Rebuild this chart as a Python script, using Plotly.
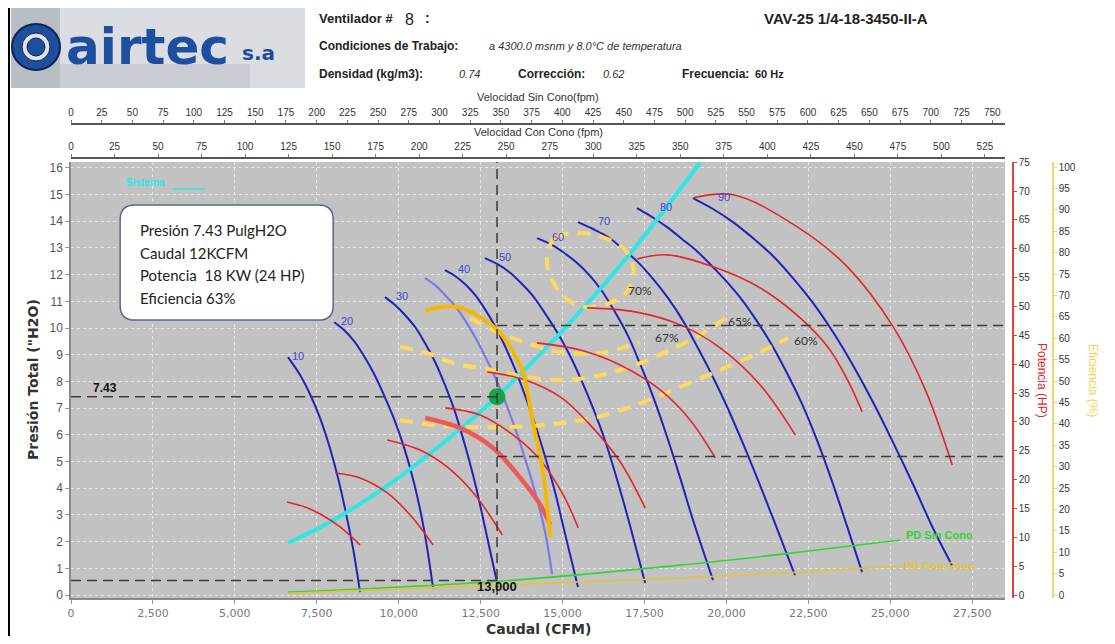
import plotly.graph_objects as go

# ---------------- data ----------------
op_cfm = 13000
op_p = 7.43
op_hp = 24
op_eff = 63
pd_op = 0.55
area_sin = 37.48   # CFM per fpm, sin cono
area_con = 53.12   # CFM per fpm, con cono

fan_labels = ["10", "20", "30", "", "40", "50", "60", "70", "80", "90"]
fan_q = [
    [6620, 6990, 7290, 7600, 7900, 8150, 8390, 8610, 8820],
    [8030, 8330, 8640, 8940, 9250, 9550, 9860, 10160, 10470, 10770, 11050],
    [9580, 9890, 10190, 10500, 10800, 11110, 11410, 11720, 12020, 12330, 12630, 13030],
    [10800, 11110, 11410, 11720, 12020, 12330, 12630, 12940, 13240, 13550, 13850, 14160, 14460, 14680],
    [11410, 11720, 12020, 12330, 12630, 12940, 13240, 13550, 13850, 14160, 14460, 14770, 15070, 15470],
    [12630, 13000, 13370, 13730, 14100, 14460, 14830, 15200, 15560, 15930, 16300, 16660, 17030, 17520],
    [14220, 14620, 15010, 15410, 15810, 16200, 16600, 17000, 17390, 17790, 18190, 18590, 18980, 19590],
    [15470, 15930, 16390, 16840, 17300, 17760, 18220, 18680, 19130, 19590, 20050, 20510, 20960, 21420, 22090],
    [17270, 17730, 18190, 18650, 19100, 19560, 20020, 20480, 20930, 21390, 21850, 22310, 22760, 23220, 23680,
     24140],
    [18980, 19590, 20200, 20810, 21420, 22030, 22640, 23250, 23860, 24470, 25080, 25690, 26300, 26880],
]
fan_p = [
    [8.91, 8.24, 7.53, 6.63, 5.51, 4.38, 3.07, 1.72, 0.11],
    [10.22, 9.93, 9.51, 8.95, 8.28, 7.49, 6.59, 5.54, 4.19, 2.47, 0.26],
    [11.16, 10.86, 10.49, 10.04, 9.44, 8.73, 7.87, 6.85, 5.62, 4.19, 2.55, 0.30],
    [11.87, 11.61, 11.24, 10.82, 10.30, 9.66, 8.95, 8.16, 7.27, 6.25, 5.13, 3.86, 2.40, 0.79],
    [12.17, 11.95, 11.65, 11.24, 10.71, 10.07, 9.33, 8.46, 7.49, 6.40, 5.21, 3.86, 2.32, 0.30],
    [12.62, 12.40, 12.10, 11.69, 11.20, 10.56, 9.85, 9.03, 8.09, 7.00, 5.77, 4.34, 2.73, 0.45],
    [13.37, 13.15, 12.85, 12.47, 11.99, 11.39, 10.60, 9.70, 8.58, 7.34, 5.92, 4.38, 2.81, 0.56],
    [13.97, 13.71, 13.41, 12.96, 12.47, 11.84, 11.12, 10.26, 9.25, 8.16, 6.97, 5.66, 4.31, 2.88, 0.75],
    [14.49, 14.16, 13.78, 13.33, 12.88, 12.32, 11.72, 11.05, 10.26, 9.36, 8.31, 7.15, 5.81, 4.27, 2.58, 0.86],
    [14.87, 14.46, 13.97, 13.37, 12.70, 11.87, 10.94, 9.85, 8.61, 7.23, 5.73, 4.16, 2.51, 1.12],
]
pow_q = [
    [6590, 7140, 7660, 8210, 8820],
    [8060, 8820, 9650, 10350, 11050],
    [9650, 10650, 11480, 12330, 13160],
    [10810, 11870, 12880, 13710, 14320, 14620],
    [11420, 12480, 13490, 14320, 15020, 15480],
    [12700, 13860, 14930, 15840, 16760, 17520],
    [14220, 15540, 16760, 17980, 18890, 19660],
    [15750, 17220, 18590, 19810, 21030, 22100],
    [17280, 18190, 19600, 21030, 22250, 23160, 23770, 24140],
    [18990, 20210, 22160, 23690, 25090, 26070, 26890],
]
pow_hp = [
    [16.13, 15.26, 13.87, 11.79, 8.67],
    [21.15, 20.29, 17.69, 13.87, 8.67],
    [26.88, 25.14, 22.19, 17.34, 10.40],
    [30.69, 28.96, 25.49, 20.29, 15.61, 12.14],
    [32.43, 31.21, 27.74, 23.41, 17.34, 11.62],
    [38.67, 37.28, 34.33, 29.48, 23.06, 15.09],
    [43.70, 42.48, 39.88, 35.55, 30.35, 23.76],
    [49.77, 49.07, 46.82, 42.83, 36.41, 27.74],
    [58.26, 58.96, 56.88, 53.23, 48.03, 42.48, 36.41, 31.73],
    [68.84, 69.36, 63.81, 56.88, 46.47, 35.55, 22.54],
]
selected_idx = 3

sys_q = [6620, 8000, 10000, 12000, 13000, 15000, 17000, 19200]
sys_p = [1.95, 2.80, 4.40, 6.35, 7.43, 9.90, 12.70, 16.20]

eff_sel_q = [10810, 11260, 11780, 12480, 13100, 13550, 13800, 14100, 14410, 14620]
eff_sel = [66.4, 67.3, 67.3, 65.0, 61.2, 56.0, 51.9, 40.2, 28.5, 13.6]

iso_names = ["70%", "67%", "65%", "60%"]
iso_q = [
    [14560, 14800, 15540, 16300, 16910, 17160, 17000, 16450, 15690, 15170, 14710, 14530, 14560],
    [12180, 13090, 13920, 14920, 16140, 16800, 17360],
    [10040, 10870, 11660, 12880, 13920, 14920, 15840, 16760, 17460, 18280, 19190, 19960],
    [10040, 11050, 12090, 13400, 14410, 15230, 16060, 16970, 17770, 18500, 19810, 21030, 21880],
]
iso_p = [
    [12.92, 13.41, 13.56, 13.37, 12.92, 12.28, 11.42, 10.94, 10.79, 11.05, 11.72, 12.36, 12.92],
    [10.37, 9.81, 9.44, 9.10, 9.06, 9.25, 9.44],
    [9.29, 9.06, 8.69, 8.43, 8.16, 8.05, 8.16, 8.43, 8.73, 9.18, 9.74, 10.37],
    [6.55, 6.37, 6.29, 6.29, 6.37, 6.48, 6.67, 7.00, 7.38, 7.75, 8.43, 9.10, 9.63],
]
iso_lbl_q = [17370, 18190, 20420, 22440]
iso_lbl_p = [11.39, 9.66, 10.26, 9.55]

pd_sin_q = [6620, 13090, 18590, 22250, 25310]
pd_sin_p = [0.11, 0.52, 1.12, 1.61, 2.06]
pd_con_q = [6620, 18590, 22250, 25310]
pd_con_p = [0.07, 0.64, 0.86, 1.09]

info_lines = ["Presión 7.43 PulgH2O", "Caudal 12KCFM", "Potencia  18 KW (24 HP)", "Eficiencia 63%"]

# ---------------- layout geometry (screen pixels; page body has an 8px margin) ----------------
OFF = 8
SW, SH = 1115, 644
W, H = SW - 2 * OFF, SH - 2 * OFF
PL, PR, PT, PB = 71, 1065, 90, 598          # plot area on screen
ML, MT = PL - OFF, PT - OFF
MR, MB = W - (PR - OFF), H - (PB - OFF)
PW, PH = PR - PL, PB - PT
XD = (1005 - PL) / PW
YD = (PB - 162) / PH


def px(x):
    return (x - PL) / PW


def py(y):
    return (PB - y) / PH


XMAX = 28500
YR = [-0.11, 16.22]
Y2R = [-0.52, 75.05]
Y3R = [-0.7, 101.2]

BLUE = "#2222bb"
LBLUE = "#7a7ae8"
RED = "#e3262b"
CYAN = "#2de6e6"
EFFY = "#ffd95e"
GOLD = "#f5b800"

fig = go.Figure()

for i, (q, p) in enumerate(zip(fan_q, fan_p)):
    sel = i == selected_idx
    fig.add_trace(go.Scatter(x=q, y=p, mode="lines", line=dict(color=LBLUE if sel else BLUE, width=2.2 if sel else 2,
                                                                 shape="spline", smoothing=1.0),
                             hoverinfo="skip", showlegend=False))
for i, (q, hp) in enumerate(zip(pow_q, pow_hp)):
    sel = i == selected_idx
    fig.add_trace(go.Scatter(x=q, y=hp, yaxis="y2", mode="lines",
                             line=dict(color="#f05858" if sel else RED, width=4.5 if sel else 1.6,
                                       shape="spline", smoothing=1.0),
                             hoverinfo="skip", showlegend=False))
fig.add_trace(go.Scatter(x=sys_q, y=sys_p, mode="lines", line=dict(color=CYAN, width=4, shape="spline"),
                         hoverinfo="skip", showlegend=False))
for q, p in zip(iso_q, iso_p):
    fig.add_trace(go.Scatter(x=q, y=p, mode="lines",
                             line=dict(color=EFFY, width=4, dash="13px,9px", shape="spline", smoothing=1.0),
                             hoverinfo="skip", showlegend=False))
fig.add_trace(go.Scatter(x=eff_sel_q, y=eff_sel, yaxis="y3", mode="lines",
                         line=dict(color=GOLD, width=4, shape="spline", smoothing=0.8),
                         hoverinfo="skip", showlegend=False))
fig.add_trace(go.Scatter(x=pd_sin_q, y=pd_sin_p, mode="lines", line=dict(color="#33d433", width=1.6, shape="spline"),
                         hoverinfo="skip", showlegend=False))
fig.add_trace(go.Scatter(x=pd_con_q, y=pd_con_p, mode="lines", line=dict(color="#e6c23a", width=1.6, shape="spline"),
                         hoverinfo="skip", showlegend=False))
fig.add_trace(go.Scatter(x=[op_cfm], y=[op_p], mode="markers", marker=dict(color="#17a347", size=17),
                         hoverinfo="skip", showlegend=False))
fig.add_trace(go.Scatter(x=[0], y=[None], xaxis="x2", mode="lines", hoverinfo="skip", showlegend=False))
fig.add_trace(go.Scatter(x=[0], y=[None], xaxis="x3", mode="lines", hoverinfo="skip", showlegend=False))

shapes = []
dash_line = dict(color="#3c3c3c", width=1.5, dash="10px,6px")
shapes.append(dict(type="line", xref="x", yref="y", x0=0, x1=op_cfm, y0=op_p, y1=op_p, line=dash_line))
shapes.append(dict(type="line", xref="x", yref="y", x0=0, x1=op_cfm, y0=pd_op, y1=pd_op, line=dash_line))
shapes.append(dict(type="line", xref="x", yref="y", x0=op_cfm, x1=op_cfm, y0=0, y1=YR[1], line=dash_line))
shapes.append(dict(type="line", xref="x", yref="y2", x0=op_cfm, x1=XMAX, y0=op_hp, y1=op_hp, line=dash_line))
shapes.append(dict(type="line", xref="x", yref="y3", x0=op_cfm, x1=XMAX, y0=op_eff, y1=op_eff, line=dash_line))

bx0, bx1, by0, by1 = 1500, 8000, 10.30, 14.61
rx, ry = 450, 0.55
path = (f"M {bx0+rx},{by1} L {bx1-rx},{by1} Q {bx1},{by1} {bx1},{by1-ry} L {bx1},{by0+ry} "
        f"Q {bx1},{by0} {bx1-rx},{by0} L {bx0+rx},{by0} Q {bx0},{by0} {bx0},{by0+ry} "
        f"L {bx0},{by1-ry} Q {bx0},{by1} {bx0+rx},{by1} Z")
shapes.append(dict(type="path", xref="x", yref="y", path=path, fillcolor="white",
                   line=dict(color="#56688a", width=1.5)))

# frame + logo
shapes.append(dict(type="line", xref="paper", yref="paper", x0=px(8), x1=px(1107), y0=py(5), y1=py(5),
                   line=dict(color="black", width=3)))
shapes.append(dict(type="line", xref="paper", yref="paper", x0=px(9), x1=px(9), y0=py(5), y1=py(636),
                   line=dict(color="black", width=2)))
shapes.append(dict(type="rect", xref="paper", yref="paper", x0=px(11), x1=px(305), y0=py(88), y1=py(7),
                   fillcolor="#dadde1", line=dict(width=0), layer="below"))
shapes.append(dict(type="rect", xref="paper", yref="paper", x0=px(11), x1=px(60), y0=py(88), y1=py(7),
                   fillcolor="#b9bec5", line=dict(width=0), layer="below"))
shapes.append(dict(type="rect", xref="paper", yref="paper", x0=px(60), x1=px(250), y0=py(88), y1=py(64),
                   fillcolor="#c9cdd3", line=dict(width=0), layer="below"))
shapes.append(dict(type="circle", xref="paper", yref="paper", x0=px(12), x1=px(60), y0=py(70), y1=py(24),
                   fillcolor="#1d4f9e", line=dict(color="#0d2350", width=2)))
shapes.append(dict(type="circle", xref="paper", yref="paper", x0=px(22), x1=px(50), y0=py(61), y1=py(33),
                   fillcolor="#dfe4ea", line=dict(color="#0d2350", width=1)))
shapes.append(dict(type="circle", xref="paper", yref="paper", x0=px(27), x1=px(45), y0=py(56), y1=py(38),
                   fillcolor="#1d4f9e", line=dict(color="#0d2350", width=1)))
shapes.append(dict(type="line", xref="paper", yref="paper", x0=px(173), x1=px(205), y0=py(189), y1=py(189),
                   line=dict(color=CYAN, width=1.5)))

ann = []


def A(x, y, text, size=12, color="#222", bold=False, italic=False, family="Liberation Sans",
      xanchor="left", yanchor="middle", angle=0, xref="paper", yref="paper", xshift=0, yshift=0):
    t = text
    if bold:
        t = f"<b>{t}</b>"
    if italic:
        t = f"<i>{t}</i>"
    ann.append(dict(x=x, y=y, xref=xref, yref=yref, text=t, showarrow=False, xanchor=xanchor, yanchor=yanchor,
                    textangle=angle, xshift=xshift, yshift=yshift,
                    font=dict(size=size, color=color, family=family)))


NARROW = "Liberation Sans Narrow, Arial Narrow, Liberation Sans"
A(px(64), py(47), "airtec", size=50, color="#1d4f9e", bold=True, family="DejaVu Sans")
A(px(240), py(53), "s.a", size=20, color="#1d4f9e", bold=True, family="DejaVu Sans")
A(px(317), py(18), "Ventilador #", size=13, color="#222", bold=True, family=NARROW)
A(px(403), py(19), "8", size=16, color="#222", family="Liberation Sans")
A(px(423), py(18), ":", size=14, color="#222", bold=True, family="Liberation Sans")
A(px(846), py(18), "VAV-25 1/4-18-3450-II-A", size=15, color="#222", bold=True, family="Liberation Sans",
  xanchor="center")
A(px(317), py(46), "Condiciones de Trabajo:", size=12, color="#222", bold=True, family=NARROW)
A(px(487), py(46), "a 4300.0 msnm y 8.0°C de temperatura", size=11, color="#333", italic=True, family=NARROW)
A(px(317), py(74), "Densidad (kg/m3):", size=12, color="#222", bold=True, family=NARROW)
A(px(457), py(74), "0.74", size=11, color="#333", italic=True, family=NARROW)
A(px(516), py(74), "Corrección:", size=12, color="#222", bold=True, family=NARROW)
A(px(601), py(74), "0.62", size=11, color="#333", italic=True, family=NARROW)
A(px(680), py(74), "Frecuencia:", size=12, color="#222", bold=True, family=NARROW)
A(px(753), py(74), "60 Hz", size=11, color="#222", bold=True, family=NARROW)

A(px(538), py(97), "Velocidad Sin Cono(fpm)", size=11, color="#333", xanchor="center")
A(px(538), py(132), "Velocidad Con Cono (fpm)", size=11, color="#333", xanchor="center")
A(px(538), py(629), "Caudal (CFM)", size=14, color="#333", bold=True, family="DejaVu Sans", xanchor="center")
A(px(33), py(380), "Presión Total (\"H2O)", size=14, color="#333", bold=True, family="DejaVu Sans",
  xanchor="center", yanchor="middle", angle=-90)
A(px(1042), py(380), "Potencia (HP)", size=12, color="#e3262b", xanchor="center", angle=90)
A(px(1093), py(380), "Eficiencia (%)", size=12, color="#f2cf55", xanchor="center", angle=90)

A(2260, 15.47, "Sistema", size=10, color=CYAN, bold=True, xanchor="center", xref="x", yref="y")
A(600, op_p, "7.43", size=12, color="#111", bold=True, xanchor="left", yanchor="bottom", xref="x", yref="y")
A(op_cfm, 0.32, "13,000", size=13, color="#111", bold=True, xanchor="center", xref="x", yref="y")
for k, line in enumerate(info_lines):
    A(2050, 13.67 - k * 0.85, line, size=15, color="#222", family="Lato", xanchor="left", xref="x", yref="y")
for q, p, t in zip(iso_lbl_q, iso_lbl_p, iso_names):
    A(q, p, t, size=12, color="#333", family="Lato", xanchor="center", xref="x", yref="y")
label_dx = [10, 13, 17, 0, 19, 20, 21, 26, 29, 31]
for lbl, q, p, dx in zip(fan_labels, fan_q, fan_p, label_dx):
    if lbl:
        A(q[0], p[0], lbl, size=11, color="#4545d8", xanchor="center", yanchor="middle", xref="x", yref="y",
          xshift=dx, yshift=1)
A(26500, 2.25, "PD Sin Cono", size=11, color="#33d433", bold=True, xanchor="center", xref="x", yref="y")
A(26500, 1.09, "PD Con Cono", size=11, color="#e6c23a", bold=True, xanchor="center", xref="x", yref="y")

grid = dict(showgrid=True, gridcolor="#e6e6e6", griddash="dot", gridwidth=1)

fig.update_layout(
    width=W, height=H,
    margin=dict(l=ML, r=MR, t=MT, b=MB, autoexpand=False),
    paper_bgcolor="white", plot_bgcolor="#c2c2c2",
    hovermode=False, showlegend=False,
    xaxis=dict(domain=[0, XD], range=[0, XMAX], dtick=2500, tickformat=",", zeroline=False,
               showline=True, linecolor="#8a8a8a", linewidth=1.5, ticks="outside", ticklen=4, tickcolor="#999",
               tickfont=dict(size=11, color="#777", family="DejaVu Sans"), **grid),
    yaxis=dict(domain=[0, YD], range=YR, dtick=1, zeroline=False, showline=True, linecolor="#8a8a8a",
               linewidth=1.5, ticks="outside", ticklen=4, tickcolor="#999",
               tickfont=dict(size=12, color="#555", family="Liberation Sans"), **grid),
    yaxis2=dict(overlaying="y", anchor="free", position=px(1013), side="right", range=Y2R, dtick=5,
                showgrid=False, zeroline=False, showline=True, linecolor="#e34040", linewidth=1.5,
                ticks="outside", ticklen=3, tickcolor="#e34040",
                tickfont=dict(size=10, color="#333", family="Liberation Sans")),
    yaxis3=dict(overlaying="y", anchor="free", position=px(1053), side="right", range=Y3R, dtick=5,
                showgrid=False, zeroline=False, showline=True, linecolor="#f0d868", linewidth=1.5,
                ticks="outside", ticklen=3, tickcolor="#f0d868",
                tickfont=dict(size=10, color="#333", family="Liberation Sans")),
    xaxis2=dict(overlaying="x", anchor="free", position=py(124), side="top", range=[0, XMAX / area_sin],
                dtick=25, showgrid=False, zeroline=False, showline=True, linecolor="#555", linewidth=1.5,
                ticks="outside", ticklen=3, tickcolor="#777",
                tickfont=dict(size=10, color="#333", family="Liberation Sans")),
    xaxis3=dict(overlaying="x", anchor="free", position=py(158), side="top", range=[0, XMAX / area_con],
                dtick=25, showgrid=False, zeroline=False, showline=True, linecolor="#555", linewidth=1.5,
                ticks="outside", ticklen=3, tickcolor="#777",
                tickfont=dict(size=10, color="#333", family="Liberation Sans")),
    shapes=shapes,
    annotations=ann,
)

fig.write_html("out.html")
